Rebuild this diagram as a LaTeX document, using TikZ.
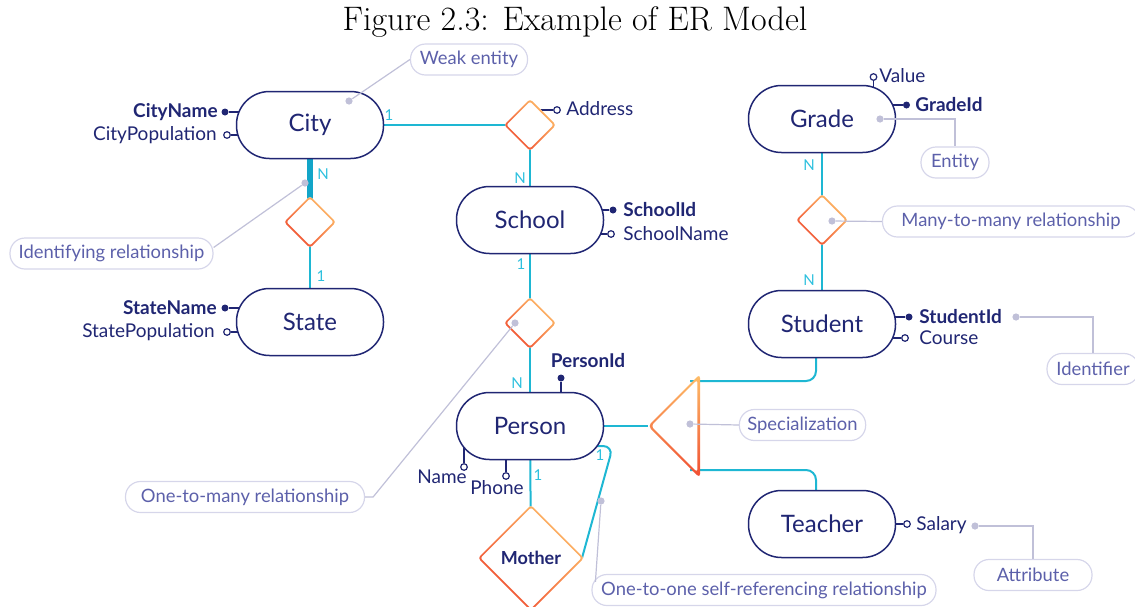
\documentclass[tikz,border=0pt]{standalone}
\usepackage{fontspec}
\newfontfamily\erfont{Lato}
\usetikzlibrary{positioning,backgrounds,calc,shapes.geometric}

\definecolor{navy}{RGB}{32,38,115}
\definecolor{linecyan}{RGB}{30,183,211}
\definecolor{thickcyan}{RGB}{18,165,200}
\definecolor{cardcyan}{RGB}{45,192,222}
\definecolor{relhi}{RGB}{254,190,105}
\definecolor{rello}{RGB}{240,78,50}
\definecolor{notetext}{RGB}{92,96,170}
\definecolor{noteline}{RGB}{214,214,234}
\definecolor{notelead}{RGB}{192,192,216}

\tikzset{
  entity/.style={draw=navy, line width=0.75pt, fill=white, rounded corners=16.5pt,
    minimum width=73.5pt, minimum height=33.5pt, text=navy,
    font=\erfont\fontsize{12}{14}\selectfont},
  relation/.style={diamond, fill=white, inner sep=0pt, outer sep=0pt,
    minimum size=#1, rounded corners=1.5pt,
    path picture={
      \shade[top color=relhi, bottom color=rello, shading angle=-45]
        (path picture bounding box.south west) rectangle (path picture bounding box.north east);
      \fill[white, rounded corners=1pt]
        ([yshift=-1.3pt]path picture bounding box.north)
        -- ([xshift=-1.3pt]path picture bounding box.east)
        -- ([yshift=1.3pt]path picture bounding box.south)
        -- ([xshift=1.3pt]path picture bounding box.west) -- cycle;
    }},
  conn/.style={draw=linecyan, line width=1pt},
  card/.style={text=cardcyan, inner sep=0pt, font=\erfont\fontsize{7.5}{9}\selectfont},
  attrline/.style={draw=navy, line width=0.6pt},
  keydot/.style={circle, fill=navy, inner sep=0pt, minimum size=3.5pt},
  attrdot/.style={circle, draw=navy, fill=white, line width=0.6pt, inner sep=0pt, minimum size=3.3pt},
  attr/.style={text=navy, inner sep=0pt, font=\erfont\fontsize{9.5}{11}\selectfont},
  keyattr/.style={attr, font=\erfont\bfseries\fontsize{9.5}{11}\selectfont},
  note/.style={draw=noteline, line width=0.6pt, rounded corners=7.5pt, minimum height=15.5pt,
    inner xsep=4pt, inner ysep=0pt, text=notetext, font=\erfont\fontsize{9.2}{11}\selectfont},
  notedot/.style={circle, fill=notelead, inner sep=0pt, minimum size=3.6pt},
  lead/.style={draw=notelead, line width=0.6pt},
}

\begin{document}
\begin{tikzpicture}[x=0.5pt, y=-0.5pt]
  \useasboundingbox (0,0) rectangle (1135,606);

  % Titulo
  \node[font=\fontsize{17}{20}\selectfont] (title) at (575,22) {Figure 2.3: Example of ER Model};

  % Entidades
  \node[entity] (city) at (310,125) {City};
  \node[entity] (state) at (310,322) {State};
  \node[entity] (school) at (530,220) {School};
  \node[entity] (person) at (530,426) {Person};
  \node[entity] (grade) at (822,119) {Grade};
  \node[entity] (student) at (822,324) {Student};
  \node[entity] (teacher) at (822,524) {Teacher};

  % Relaciones
  \node[relation=26pt] (cityHas) at (310,222) {};
  \node[relation=26pt] (cityAddr) at (530,125) {};
  \node[relation=26pt] (attends) at (530,323) {};
  \node[relation=26pt] (gradeRel) at (822,220) {};
  \node[relation=53pt, text=navy, font=\erfont\bfseries\fontsize{9}{11}\selectfont] (mother) at (531,558) {Mother};

  % Especializacion
  \coordinate (specTip) at (648,426);
  \coordinate (specTop) at (700,374);
  \coordinate (specBot) at (700,478);
  \shade[top color=relhi, bottom color=rello, rounded corners=2pt] (specTip) -- (specTop) -- (specBot) -- cycle;
  \fill[white, rounded corners=1.5pt] ($(specTip)+(3.2,0)$) -- ($(specTop)+(-2.6,5.8)$) -- ($(specBot)+(-2.6,-5.8)$) -- cycle;

  % Atributos
  \node[keydot] (cityNameDot) at (225,112) {};
  \node[keyattr, anchor=east] (cityName) at (218,112) {CityName};
  \node[attrdot] (cityPopDot) at (227,135) {};
  \node[attr, anchor=east] (cityPop) at (217,135) {CityPopulation};
  \node[keydot] (stateNameDot) at (225,308) {};
  \node[keyattr, anchor=east] (stateName) at (217,308) {StateName};
  \node[attrdot] (statePopDot) at (227,332) {};
  \node[attr, anchor=east] (statePop) at (215,332) {StatePopulation};
  \node[attrdot] (addrDot) at (557,110) {};
  \node[attr, anchor=west] (addr) at (566,109) {Address};
  \node[keydot] (schoolIdDot) at (613,210) {};
  \node[keyattr, anchor=west] (schoolId) at (623,210) {SchoolId};
  \node[attrdot] (schoolNameDot) at (611,234) {};
  \node[attr, anchor=west] (schoolName) at (623,234) {SchoolName};
  \node[keydot] (personIdDot) at (561,378) {};
  \node[keyattr] (personId) at (588,361) {PersonId};
  \node[attrdot] (nameDot) at (464,467) {};
  \node[attr] (name) at (442,477) {Name};
  \node[attrdot] (phoneDot) at (506,476) {};
  \node[attr] (phone) at (497,488) {Phone};
  \node[attrdot] (valueDot) at (873.5,77) {};
  \node[attr, anchor=west] (value) at (879,76) {Value};
  \node[keydot] (gradeIdDot) at (906.5,105) {};
  \node[keyattr, anchor=west] (gradeId) at (915,105) {GradeId};
  \node[keydot] (studentIdDot) at (909,317) {};
  \node[keyattr, anchor=west] (studentId) at (919,317) {StudentId};
  \node[attrdot] (courseDot) at (905,338) {};
  \node[attr, anchor=west] (course) at (919,338) {Course};
  \node[attrdot] (salaryDot) at (907,524) {};
  \node[attr, anchor=west] (salary) at (916,525) {Salary};

  % Cardinalidades
  \node[card] (cardCityE) at (389,115) {1};
  \node[card] (cardCityS) at (323,174) {N};
  \node[card] (cardStateN) at (321,276) {1};
  \node[card] (cardSchoolN) at (520,178) {N};
  \node[card] (cardSchoolS) at (521,264) {1};
  \node[card] (cardPersonN) at (517,383) {N};
  \node[card] (cardPersonS) at (538,475) {1};
  \node[card] (cardSelf) at (600,455) {1};
  \node[card] (cardGradeS) at (809,165) {N};
  \node[card] (cardStudentN) at (809,280) {N};

  \begin{scope}[on background layer]
    % Conexiones
    \draw[conn] (city.center) -- (cityAddr.center);
    \draw[conn] (cityAddr.center) -- (school.center);
    \draw[conn] (school.center) -- (attends.center);
    \draw[conn] (attends.center) -- (person.center);
    \draw[conn] (person.center) -- (mother.center);
    \draw[conn] (person.center) -- (specTip);
    \draw[conn, draw=thickcyan, line width=2.6pt] (city.center) -- (cityHas.center);
    \draw[conn] (cityHas.center) -- (state.center);
    \draw[conn] (grade.center) -- (gradeRel.center);
    \draw[conn] (gradeRel.center) -- (student.center);
    \draw[conn, rounded corners=5pt] ($(person.east)+(-12,20)$) -- (613,446) -- ([xshift=-1pt]mother.east);
    \draw[conn, rounded corners=5pt] ($(specTop)+(-10,7)$) -| ([xshift=-3pt]student.center);
    \draw[conn, rounded corners=5pt] ($(specBot)+(-10,-8)$) -| ([xshift=-3pt]teacher.center);
    % Lineas de atributos
    \draw[attrline] (cityNameDot) -- (cityNameDot -| city.center);
    \draw[attrline] (cityPopDot) -- (cityPopDot -| city.center);
    \draw[attrline] (stateNameDot) -- (stateNameDot -| state.center);
    \draw[attrline] (statePopDot) -- (statePopDot -| state.center);
    \draw[attrline] (addrDot) -- (addrDot -| cityAddr.center);
    \draw[attrline] (schoolIdDot) -- (schoolIdDot -| school.center);
    \draw[attrline] (schoolNameDot) -- (schoolNameDot -| school.center);
    \draw[attrline] (personIdDot) -- (personIdDot |- person.center);
    \draw[attrline] (nameDot) -- (nameDot |- person.center);
    \draw[attrline] (phoneDot) -- (phoneDot |- person.center);
    \draw[attrline] (valueDot) -- (valueDot |- grade.center);
    \draw[attrline] (gradeIdDot) -- (gradeIdDot -| grade.center);
    \draw[attrline] (studentIdDot) -- (studentIdDot -| student.center);
    \draw[attrline] (courseDot) -- (courseDot -| student.center);
    \draw[attrline] (salaryDot) -- (salaryDot -| teacher.center);
  \end{scope}

  % Notas
  \node[notedot] (weakDot) at (349,101) {};
  \node[note, minimum width=58.5pt] (weakNote) at (469,59.5) {Weak entity};
  \draw[lead] (weakDot) -- (weakNote.west);
  \node[notedot] (idDot) at (305,183) {};
  \node[note, minimum width=101.5pt] (idNote) at (111.5,253.5) {Identifying relationship};
  \draw[lead] (idDot) -- ([yshift=3pt]idNote.east);
  \node[notedot] (omDot) at (515,323) {};
  \node[note, minimum width=119.5pt] (omNote) at (245,497) {One-to-many relationship};
  \draw[lead] (omDot) -- ([xshift=4pt]omNote.east) -- (omNote.east);
  \node[notedot] (ooDot) at (601,501) {};
  \node[note, minimum width=172pt] (ooNote) at (764,590) {One-to-one self-referencing relationship};
  \draw[lead] (ooDot) -- ([xshift=2pt,yshift=-4pt]ooNote.north west);
  \node[notedot] (specDot) at (690,424) {};
  \node[note, minimum width=62.5pt] (specNote) at (802.5,425) {Specialization};
  \draw[lead] (specDot) -- (specNote.west);
  \node[notedot] (mmDot) at (832,221) {};
  \node[note, minimum width=128.5pt] (mmNote) at (1011,221.5) {Many-to-many relationship};
  \draw[lead] (mmDot) -- (mmNote.west);
  \node[notedot] (entDot) at (880,119) {};
  \node[note, minimum width=34pt] (entNote) at (955,162.5) {Entity};
  \draw[lead] (entDot) -| (entNote.north);
  \node[notedot] (idfDot) at (1016,317) {};
  \node[note, minimum width=46pt] (idfNote) at (1093,369) {Identifier};
  \draw[lead] (idfDot) -| (idfNote.north);
  \node[notedot] (attDot) at (975,526) {};
  \node[note, minimum width=59pt] (attNote) at (1033,575) {Attribute};
  \draw[lead] (attDot) -| (attNote.north);
\end{tikzpicture}
\end{document}
